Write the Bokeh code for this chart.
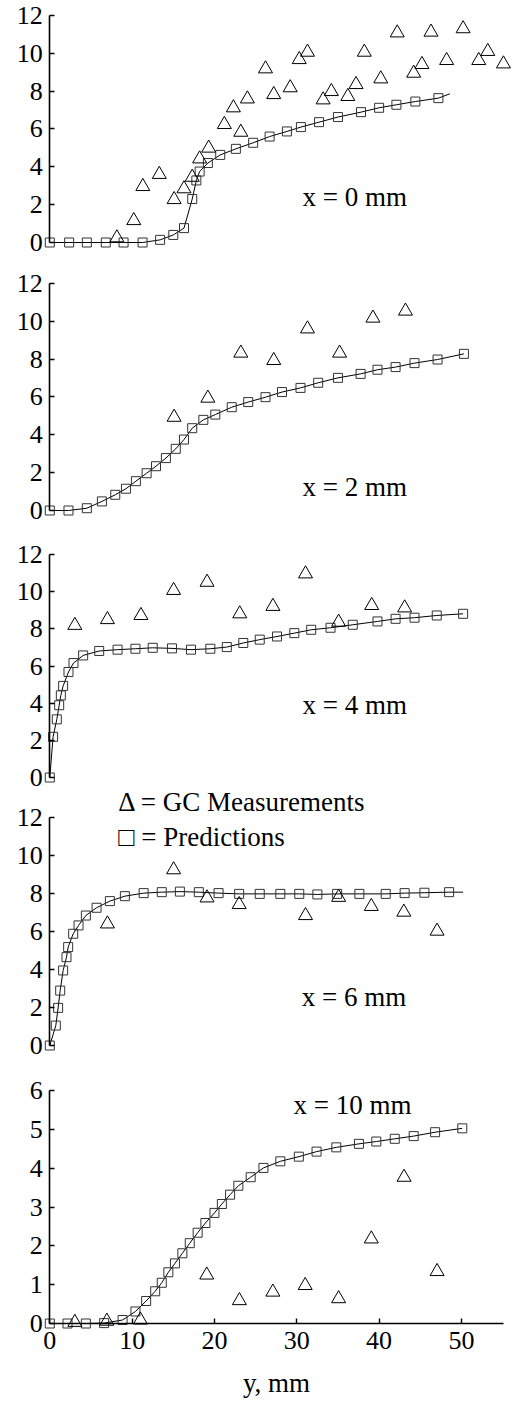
from bokeh.plotting import figure
from bokeh.models import Range1d, FixedTicker, LinearAxis
from bokeh.core.properties import value
from bokeh.embed import file_html
from bokeh.resources import INLINE

# ---------------- data ----------------
# Panel x = 0 mm
p0_pred_x = [0, 2.35, 4.5, 6.8, 8.96, 11.27, 13.4, 15.0, 16.3, 17.3, 17.8, 18.2, 19.2, 20.7,
             22.6, 24.7, 26.7, 28.8, 30.5, 32.7, 35.0, 37.8, 40.0, 42.1, 44.4, 47.2]
p0_pred_y = [0, 0, 0, 0, 0, 0, 0.14, 0.4, 0.76, 2.3, 3.28, 3.75, 4.2, 4.63,
             4.95, 5.27, 5.6, 5.87, 6.1, 6.36, 6.63, 6.89, 7.12, 7.28, 7.45, 7.63]
p0_line_end = [48.6, 7.86]
p0_meas_x = [8.15, 10.2, 11.3, 13.3, 15.1, 16.3, 17.3, 18.2, 19.3, 21.2, 22.3, 24.0, 23.2,
             26.2, 27.2, 29.2, 30.3, 31.3, 33.2, 34.2, 36.2, 37.2, 38.2, 40.2, 42.2, 44.2,
             45.2, 46.3, 48.2, 50.2, 52.1, 53.2, 55.1]
p0_meas_y = [0.25, 1.16, 2.96, 3.6, 2.27, 2.84, 3.45, 4.42, 4.99, 6.24, 7.12, 7.59, 5.83,
             9.18, 7.82, 8.18, 9.67, 10.06, 7.54, 7.98, 7.72, 8.35, 10.06, 8.65, 11.08, 8.95,
             9.41, 11.12, 9.62, 11.3, 9.62, 10.1, 9.44]

# Panel x = 2 mm
p2_pred_x = [0, 2.27, 4.5, 6.33, 7.95, 9.25, 10.46, 11.76, 12.9, 14.1, 15.3, 16.3, 17.3, 18.65,
             20.1, 22.1, 24.1, 26.2, 28.2, 30.45, 32.6, 35.0, 37.75, 39.8, 42.0, 44.3, 47.1, 50.3]
p2_pred_y = [0, 0, 0.12, 0.48, 0.83, 1.15, 1.55, 1.97, 2.34, 2.77, 3.26, 3.75, 4.35, 4.79,
             5.07, 5.46, 5.73, 5.99, 6.26, 6.48, 6.75, 7.01, 7.22, 7.44, 7.58, 7.79, 7.98, 8.28]
p2_meas_x = [15.1, 19.2, 23.2, 27.2, 31.3, 35.2, 39.25, 43.2]
p2_meas_y = [4.93, 5.94, 8.32, 7.93, 9.6, 8.32, 10.17, 10.54]

# Panel x = 4 mm
p4_pred_x = [0, 0.4, 0.85, 1.14, 1.34, 1.62, 2.27, 2.88, 4.05, 6.0, 8.23, 10.4, 12.5, 14.84,
             17.15, 19.5, 21.5, 23.5, 25.5, 27.6, 29.7, 31.75, 34.1, 36.8, 39.8, 42.0, 44.3,
             47.0, 50.2]
p4_pred_y = [0, 2.19, 3.13, 3.89, 4.42, 4.93, 5.68, 6.16, 6.57, 6.81, 6.88, 6.93, 6.98, 6.95,
             6.88, 6.93, 7.02, 7.24, 7.42, 7.59, 7.77, 7.95, 8.06, 8.22, 8.4, 8.54, 8.6,
             8.72, 8.81]
p4_meas_x = [3.04, 7.0, 11.07, 15.04, 19.1, 23.07, 27.1, 31.06, 35.08, 39.1, 43.1]
p4_meas_y = [8.19, 8.5, 8.72, 10.07, 10.51, 8.81, 9.21, 10.96, 8.36, 9.26, 9.13]

# Panel x = 6 mm
p6_pred_x = [0, 0.73, 1.01, 1.26, 1.62, 2.03, 2.23, 2.84, 3.49, 4.38, 5.68, 7.3, 9.12, 11.4,
             13.6, 15.8, 18.1, 20.5, 23.0, 25.5, 28.0, 30.3, 32.5, 34.9, 37.6, 40.8, 43.1,
             45.5, 48.5]
p6_pred_y = [0, 1.05, 1.98, 2.89, 3.95, 4.65, 5.18, 5.88, 6.32, 6.84, 7.25, 7.6, 7.86, 8.02,
             8.07, 8.1, 8.07, 8.02, 7.98, 7.98, 7.98, 7.98, 7.95, 7.98, 7.98, 7.98, 8.02,
             8.04, 8.07]
p6_line_end = [50.2, 8.07]
p6_meas_x = [7.0, 15.04, 19.1, 23.0, 31.06, 35.08, 39.05, 43.0, 47.04]
p6_meas_y = [6.4, 9.25, 7.77, 7.42, 6.84, 7.8, 7.32, 7.02, 6.02]

# Panel x = 10 mm
p10_pred_x = [0, 2.15, 4.38, 6.6, 8.84, 10.4, 11.7, 12.8, 13.6, 14.4, 15.2, 16.1, 17.0, 17.96,
              18.9, 20.0, 20.9, 21.9, 22.9, 24.4, 25.95, 28.0, 30.25, 32.4, 34.8, 37.55,
              39.66, 41.9, 44.2, 46.8, 50.1]
p10_pred_y = [0, 0, 0, 0.01, 0.09, 0.31, 0.58, 0.83, 1.05, 1.32, 1.55, 1.81, 2.07, 2.34,
              2.59, 2.85, 3.08, 3.32, 3.55, 3.77, 4.01, 4.18, 4.3, 4.43, 4.54, 4.63,
              4.69, 4.76, 4.83, 4.93, 5.03]
p10_meas_x = [3.04, 6.93, 11.0, 19.06, 23.03, 27.09, 31.02, 35.08, 39.05, 43.03, 47.04]
p10_meas_y = [0.03, 0.06, 0.09, 1.25, 0.59, 0.81, 0.98, 0.64, 2.18, 3.77, 1.34]

labels = ["x = 0 mm", "x = 2 mm", "x = 4 mm", "x = 6 mm", "x = 10 mm"]
legend_meas = "\u0394 = GC Measurements"
legend_pred = "\u25a1 = Predictions"
x_ticks = [0, 10, 20, 30, 40, 50]
y_ticks_big = [0, 2, 4, 6, 8, 10, 12]
y_ticks_small = [0, 1, 2, 3, 4, 5, 6]
x_axis_title = "y, mm"

# ---------------- styling / layout ----------------
FONT = "Liberation Serif"
W, H = 524, 1407
X0, PX = 49.3, 8.233          # pixel of x=0, pixels per x unit


def yrange(y0, py):
    # y0: pixel row of value 0, py: pixels per unit
    return Range1d((y0 - H) / py, y0 / py)


p = figure(width=W, height=H,
           x_range=Range1d(-X0 / PX, (W - X0) / PX),
           y_range=yrange(242, 18.92),
           output_backend="svg", toolbar_location=None, tools="",
           min_border_left=0, min_border_right=0, min_border_top=0, min_border_bottom=0,
           x_axis_location=None, y_axis_location=None)
p.outline_line_color = None
p.background_fill_color = "white"
p.border_fill_color = "white"
p.grid.visible = False
p.extra_y_ranges = {
    "p2": yrange(510, 18.92),
    "p4": yrange(777, 18.58),
    "p6": yrange(1045, 19.0),
    "p10": yrange(1323, 38.8),
}


def style_axis(ax):
    ax.axis_line_width = 1.6
    ax.axis_line_color = "black"
    ax.major_tick_in = 5
    ax.major_tick_out = 0
    ax.major_tick_line_width = 1.4
    ax.major_tick_line_color = "black"
    ax.minor_tick_line_color = None
    ax.major_label_text_font = FONT
    ax.major_label_text_font_size = "26px"
    ax.major_label_text_color = "black"


def add_panel(rname, px, py, mx, my, line_end, ticks, top, txt, tx, ty):
    ax = LinearAxis(y_range_name=rname, fixed_location=0, bounds=(0, top),
                    ticker=FixedTicker(ticks=ticks))
    style_axis(ax)
    ax.major_label_standoff = 7
    p.add_layout(ax, "left")
    lx = list(px)
    ly = list(py)
    if line_end is not None:
        lx.append(line_end[0])
        ly.append(line_end[1])
    p.line(lx, ly, line_color="black", line_width=1, y_range_name=rname)
    p.scatter(px, py, marker="square", size=9, fill_color=None, line_color="#333333",
              line_width=1, y_range_name=rname)
    p.scatter(mx, my, marker="triangle", size=14, fill_color=None, line_color="black",
              line_width=1, y_range_name=rname)
    label(rname, tx, ty, txt)


def label(rname, x, y, txt):
    p.text(x=[x], y=[y], text=[txt], text_font=value(FONT), text_font_size="27px",
           text_align="left", text_baseline="alphabetic", text_color="black",
           y_range_name=rname)


add_panel("default", p0_pred_x, p0_pred_y, p0_meas_x, p0_meas_y, p0_line_end,
          y_ticks_big, 12, labels[0], 30.7, 2.38)
add_panel("p2", p2_pred_x, p2_pred_y, p2_meas_x, p2_meas_y, None,
          y_ticks_big, 12, labels[1], 30.7, 1.22)
add_panel("p4", p4_pred_x, p4_pred_y, p4_meas_x, p4_meas_y, None,
          y_ticks_big, 12, labels[2], 30.7, 3.88)
add_panel("p6", p6_pred_x, p6_pred_y, p6_meas_x, p6_meas_y, p6_line_end,
          y_ticks_big, 12, labels[3], 30.6, 2.53)
label("p6", 8.3, 12.79, legend_meas)
label("p6", 8.3, 10.95, legend_pred)
add_panel("p10", p10_pred_x, p10_pred_y, p10_meas_x, p10_meas_y, None,
          y_ticks_small, 6, labels[4], 29.6, 5.62)

xa = LinearAxis(y_range_name="p10", fixed_location=0, bounds=(0, 55.1),
                ticker=FixedTicker(ticks=x_ticks))
style_axis(xa)
xa.major_label_standoff = 8
xa.axis_label = x_axis_title
xa.axis_label_text_font = FONT
xa.axis_label_text_font_size = "27px"
xa.axis_label_text_font_style = "normal"
xa.axis_label_standoff = 16
xa.axis_label_text_color = "black"
p.add_layout(xa, "below")

open("out.html", "w").write(file_html(p, INLINE))
